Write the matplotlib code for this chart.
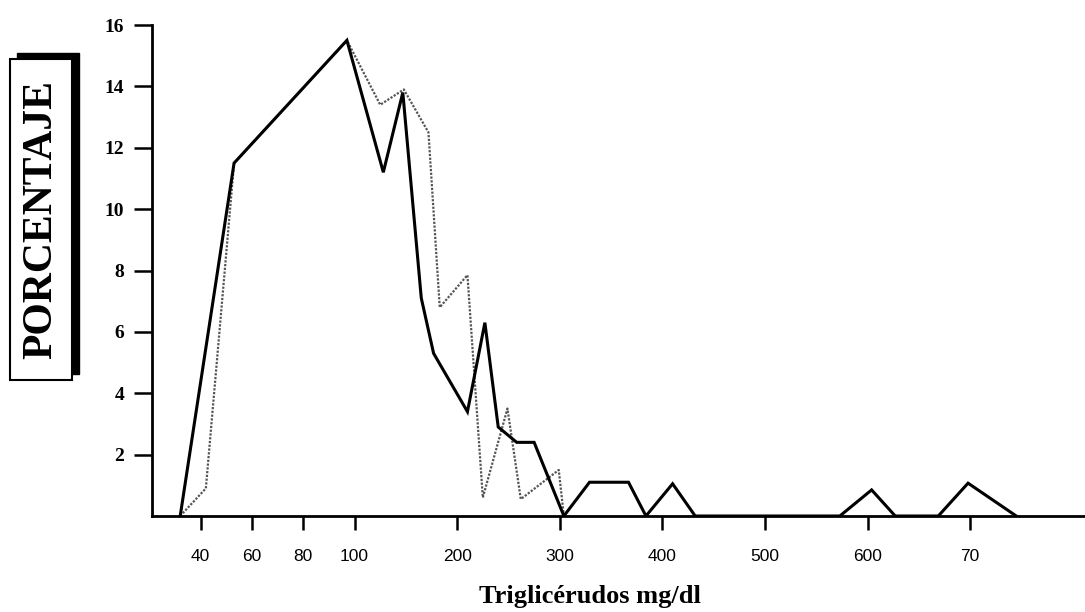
import numpy as np
import matplotlib
matplotlib.use("Agg")
import matplotlib.pyplot as plt
from matplotlib.patches import Rectangle

# triglycerides (mg/dl) vs percentage, two distributions
solid_x = [32, 53, 97, 128, 147, 165, 177, 210, 227, 240, 258, 275, 304,
           329, 367, 384, 410, 432, 573, 604, 627, 669, 698, 745]
solid_y = [0, 11.5, 15.5, 11.2, 13.8, 7.1, 5.3, 3.4, 6.3, 2.9, 2.4, 2.4, 0,
           1.1, 1.1, 0, 1.05, 0, 0, 0.85, 0, 0, 1.07, 0]

dotted_x = [32, 42, 53, 97, 125, 148, 172, 183, 210, 225, 249, 262, 299, 304]
dotted_y = [0, 0.9, 11.5, 15.5, 13.4, 13.9, 12.5, 6.8, 7.85, 0.6, 3.5, 0.55,
            1.5, 0]

xticks = [40, 60, 80, 100, 200, 300, 400, 500, 600, 700]
xticklabels = ["40", "60", "80", "100", "200", "300", "400", "500", "600", "70"]
yticks = [2, 4, 6, 8, 10, 12, 14, 16]


# the original axis is stretched below 100 (20 mg/dl per step) and
# compressed above (100 mg/dl per two steps)
def fwd(x):
    x = np.asarray(x, dtype=float)
    return np.where(x <= 100, x / 20 - 1, 4 + (x - 100) / 50)


def inv(p):
    p = np.asarray(p, dtype=float)
    return np.where(p <= 4, (p + 1) * 20, 100 + (p - 4) * 50)


SERIF = ["Liberation Serif", "DejaVu Serif"]
SANS = ["Liberation Sans", "DejaVu Sans"]

W, H = 1085, 612
fig = plt.figure(figsize=(W / 100, H / 100), dpi=100)
ax = fig.add_axes([152 / W, (H - 516) / H, 1 - 152 / W, (516 - 25) / H])

ax.plot(dotted_x, dotted_y, color="#555555", lw=1.6, ls=(0, (1, 0.7)), zorder=2)
ax.plot(solid_x, solid_y, color="black", lw=2.2, zorder=3,
        solid_joinstyle="miter")

ax.set_xscale("function", functions=(fwd, inv))
ax.set_xlim(21, 812)
ax.set_ylim(0, 16)

for s in ["top", "right"]:
    ax.spines[s].set_visible(False)
for s in ["left", "bottom"]:
    ax.spines[s].set_linewidth(2)

ax.set_xticks(xticks)
ax.set_xticklabels(xticklabels, family=SANS, fontsize=12.5)
ax.xaxis.set_minor_locator(matplotlib.ticker.NullLocator())
ax.tick_params(axis="x", direction="out", length=10, width=1.8, pad=14)

ax.set_yticks(yticks)
ax.set_yticklabels([str(v) for v in yticks], family=SERIF,
                   fontweight="bold", fontsize=14)
ax.tick_params(axis="y", direction="out", length=13, width=1.8, pad=7)

ax.set_xlabel("Triglicérudos mg/dl", family=SERIF, fontweight="bold",
              fontsize=19)
ax.xaxis.set_label_coords((590 - 152) / (W - 152), (516 - 585) / (516 - 25))

# boxed y label with a drop shadow
bx0, bx1, by0, by1 = 10, 72, 59, 380
fig.patches.append(Rectangle(((bx0 + 7) / W, (H - by1 + 6) / H),
                             (bx1 - bx0) / W, (by1 - by0) / H,
                             transform=fig.transFigure, facecolor="black",
                             edgecolor="black", zorder=1))
fig.patches.append(Rectangle((bx0 / W, (H - by1) / H),
                             (bx1 - bx0) / W, (by1 - by0) / H,
                             transform=fig.transFigure, facecolor="white",
                             edgecolor="black", lw=1.5, zorder=2))
fig.text((bx0 + bx1) / 2 / W, 1 - (by0 + by1) / 2 / H, "PORCENTAJE",
         rotation=90, ha="center", va="center", family=SERIF,
         fontweight="bold", fontsize=30, zorder=3)

fig.savefig("out.png", dpi=100)
